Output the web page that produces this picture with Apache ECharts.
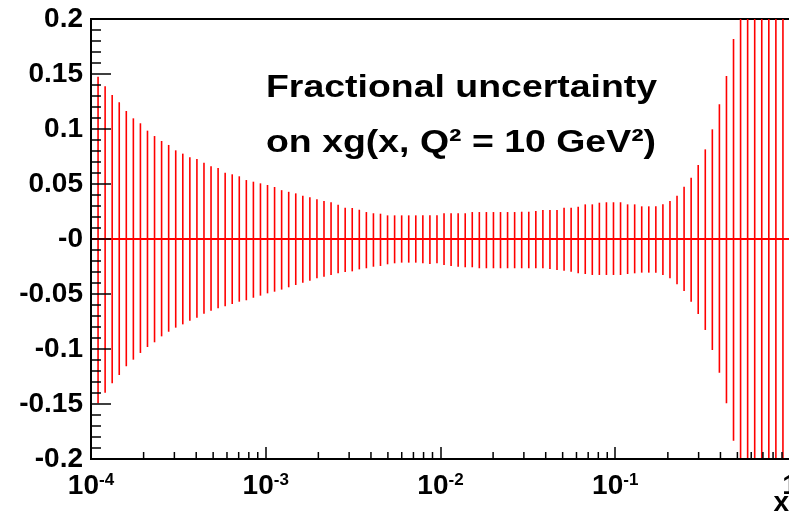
<!DOCTYPE html>
<html>
<head>
<meta charset="utf-8">
<script src="https://cdn.jsdelivr.net/npm/echarts@6/dist/echarts.min.js"></script>
<style>
html,body{margin:0;padding:0;background:#fff;}
#chart{width:789px;height:515px;}
</style>
</head>
<body>
<div id="chart"></div>
<script>
// log10(x) sampling points of the graph (100 points from 1e-4 to 1)
const xExp = [-4,-3.9596,-3.9192,-3.8788,-3.8384,-3.7980,-3.7576,-3.7172,-3.6768,-3.6364,
  -3.5960,-3.5556,-3.5152,-3.4747,-3.4343,-3.3939,-3.3535,-3.3131,-3.2727,-3.2323,
  -3.1919,-3.1515,-3.1111,-3.0707,-3.0303,-2.9899,-2.9495,-2.9091,-2.8687,-2.8283,
  -2.7879,-2.7475,-2.7071,-2.6667,-2.6263,-2.5859,-2.5455,-2.5051,-2.4646,-2.4242,
  -2.3838,-2.3434,-2.3030,-2.2626,-2.2222,-2.1818,-2.1414,-2.1010,-2.0606,-2.0202,
  -1.9798,-1.9394,-1.8990,-1.8586,-1.8182,-1.7778,-1.7374,-1.6970,-1.6566,-1.6162,
  -1.5758,-1.5354,-1.4949,-1.4545,-1.4141,-1.3737,-1.3333,-1.2929,-1.2525,-1.2121,
  -1.1717,-1.1313,-1.0909,-1.0505,-1.0101,-0.9697,-0.9293,-0.8889,-0.8485,-0.8081,
  -0.7677,-0.7273,-0.6869,-0.6465,-0.6061,-0.5657,-0.5253,-0.4848,-0.4444,-0.4040,
  -0.3636,-0.3232,-0.2828,-0.2424,-0.2020,-0.1616,-0.1212,-0.0808,-0.0404,0];

// central value (fractional, so 0)
const central = [0,0,0,0,0,0,0,0,0,0, 0,0,0,0,0,0,0,0,0,0, 0,0,0,0,0,0,0,0,0,0,
  0,0,0,0,0,0,0,0,0,0, 0,0,0,0,0,0,0,0,0,0, 0,0,0,0,0,0,0,0,0,0,
  0,0,0,0,0,0,0,0,0,0, 0,0,0,0,0,0,0,0,0,0, 0,0,0,0,0,0,0,0,0,0, 0,0,0,0,0,0,0,0,0,0];

// upward uncertainty
const errUp = [0.156,0.1475,0.1388,0.1309,0.1243,0.1164,0.1097,0.1052,0.0985,0.0936,
  0.0891,0.0855,0.0806,0.0776,0.0743,0.0727,0.0694,0.0661,0.0645,0.0603,
  0.0588,0.0570,0.0536,0.0521,0.0506,0.0491,0.0473,0.0444,0.0429,0.0415,
  0.0394,0.0379,0.0361,0.0345,0.0334,0.0312,0.0285,0.0282,0.0266,0.0245,
  0.0234,0.0230,0.0215,0.0215,0.0215,0.0215,0.0215,0.0215,0.0215,0.0215,
  0.0234,0.0234,0.0234,0.0234,0.0245,0.0245,0.0245,0.0245,0.0245,0.0245,
  0.0245,0.0248,0.0248,0.0255,0.0264,0.0264,0.0264,0.0285,0.0285,0.0294,
  0.0315,0.0315,0.0330,0.0334,0.0334,0.0334,0.0315,0.0315,0.0297,0.0297,
  0.0297,0.0315,0.0345,0.0394,0.0475,0.0557,0.0673,0.0815,0.0997,0.1224,
  0.1482,0.1818,0.225,0.28,0.34,0.42,0.5,0.6,0.7,0.8];

// downward uncertainty (magnitude)
const errDown = [0.158,0.1494,0.1397,0.1312,0.1236,0.1157,0.1097,0.1036,0.0982,0.0939,
  0.0885,0.0843,0.0806,0.0776,0.0743,0.0715,0.0679,0.0652,0.0630,0.0612,
  0.0591,0.0570,0.0557,0.0534,0.0515,0.0494,0.0479,0.0460,0.0439,0.0418,
  0.0397,0.0379,0.0357,0.0343,0.0327,0.0312,0.0300,0.0294,0.0276,0.0266,
  0.0252,0.0245,0.0230,0.0221,0.0215,0.0215,0.0215,0.0221,0.0227,0.0221,
  0.0236,0.0245,0.0252,0.0257,0.0257,0.0266,0.0266,0.0266,0.0266,0.0266,
  0.0266,0.0266,0.0266,0.0266,0.0266,0.0273,0.0282,0.0288,0.0297,0.0312,
  0.0318,0.0327,0.0327,0.0327,0.0327,0.0327,0.0318,0.0312,0.0306,0.0306,
  0.0306,0.0327,0.0357,0.0412,0.0473,0.0570,0.0682,0.0827,0.1009,0.1215,
  0.1494,0.1834,0.23,0.28,0.34,0.42,0.5,0.6,0.7,0.8];

const titleLines = ['Fractional uncertainty', 'on xg(x, Q\u00B2 = 10 GeV\u00B2)'];
const xAxisTitle = 'x';
const yZeroLabel = '-0';

const xMin = 1e-4, xMax = 1, yMin = -0.2, yMax = 0.2;
const FONT = '"Liberation Sans", Arial, Helvetica, sans-serif';

const xVals = xExp.map(e => Math.pow(10, e));
const lineData = xVals.map((x, i) => [x, central[i]]);
const errData = xVals.map((x, i) => [x, central[i] - errDown[i], central[i] + errUp[i]]);

// minor tick positions of the log axis (2..9 x 10^n)
const minorTicks = [];
for (let e = -4; e < 0; e++) for (let m = 2; m <= 9; m++) minorTicks.push([m * Math.pow(10, e), yMin]);

const chart = echarts.init(document.getElementById('chart'), null, {renderer: 'canvas'});

function clampY(v) { return Math.max(yMin, Math.min(yMax, v)); }

const option = {
  animation: false,
  backgroundColor: '#ffffff',
  grid: {left: 91, top: 19, right: -1, bottom: 56, containLabel: false, outerBoundsMode: 'none',
    show: true, borderColor: '#000', borderWidth: 2, backgroundColor: 'transparent'},
  xAxis: {
    type: 'log', logBase: 10, min: xMin, max: xMax, z: 5,
    axisLine: {show: true, onZero: false, lineStyle: {color: '#000', width: 2}},
    axisTick: {show: true, inside: true, length: 12, lineStyle: {color: '#000', width: 1.5}},
    splitLine: {show: false},
    axisLabel: {
      margin: 13, color: '#000', showMaxLabel: true, showMinLabel: true, hideOverlap: false,
      formatter: function (v) {
        const e = Math.round(Math.log10(v));
        if (e === 0) return '{b|1}';
        return '{b|10}{s|' + e + '}';
      },
      rich: {
        b: {fontSize: 28, fontWeight: 'bold', fontFamily: FONT, color: '#000'},
        s: {fontSize: 17, fontWeight: 'bold', fontFamily: FONT, color: '#000', verticalAlign: 'top'}
      }
    }
  },
  yAxis: {
    type: 'value', min: yMin, max: yMax, interval: 0.05, z: 5,
    axisLine: {show: true, onZero: false, lineStyle: {color: '#000', width: 2}},
    axisTick: {show: true, inside: true, length: 20, lineStyle: {color: '#000', width: 1.5}},
    minorTick: {show: true, splitNumber: 5, length: 10, lineStyle: {color: '#000', width: 1.5}},
    splitLine: {show: false},
    axisLabel: {
      margin: 8, color: '#000', fontSize: 28, fontWeight: 'bold', fontFamily: FONT,
      padding: [5, 0, 0, 0],
      formatter: function (v) { return Math.abs(v) < 1e-9 ? yZeroLabel : String(+v.toFixed(2)); }
    }
  },
  graphic: [
    {type: 'text', x: 266, y: 88.5, scaleX: 1.17, z: 100,
      style: {text: titleLines[0], font: 'bold 32px ' + FONT, fill: '#000', align: 'left', verticalAlign: 'middle'}},
    {type: 'text', x: 266, y: 143, scaleX: 1.17, z: 100,
      style: {text: titleLines[1], font: 'bold 32px ' + FONT, fill: '#000', align: 'left', verticalAlign: 'middle'}},
    {type: 'text', x: 789, y: 503, z: 100,
      style: {text: xAxisTitle, font: 'bold 28px ' + FONT, fill: '#000', align: 'right', verticalAlign: 'middle'}}
  ],
  series: [
    {
      type: 'line', data: lineData, showSymbol: false, symbol: 'none', z: 2,
      lineStyle: {color: '#ff0000', width: 2}, silent: true
    },
    {
      type: 'custom', data: errData, z: 3, clip: true, silent: true,
      encode: {x: 0, y: [1, 2]},
      renderItem: function (params, api) {
        const x = api.value(0);
        const p1 = api.coord([x, clampY(api.value(1))]);
        const p2 = api.coord([x, clampY(api.value(2))]);
        return {type: 'line', shape: {x1: p1[0], y1: p1[1], x2: p2[0], y2: p2[1]},
          style: {stroke: '#ff0000', lineWidth: 1.6}};
      }
    },
    {
      type: 'custom', data: minorTicks, z: 6, silent: true,
      encode: {x: 0, y: 1},
      renderItem: function (params, api) {
        const p = api.coord([api.value(0), api.value(1)]);
        return {type: 'line', shape: {x1: p[0], y1: p[1], x2: p[0], y2: p[1] - 7},
          style: {stroke: '#000', lineWidth: 1.5}};
      }
    }
  ]
};
chart.setOption(option);
</script>
</body>
</html>
